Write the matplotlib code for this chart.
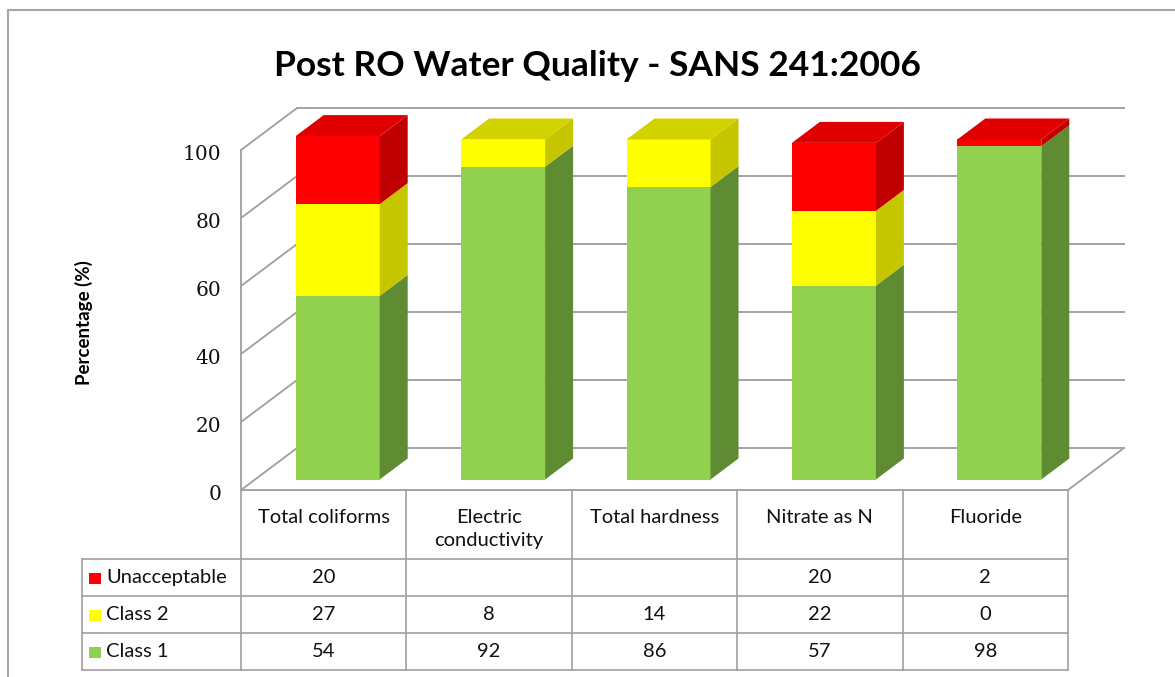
import numpy as np
import matplotlib
matplotlib.use("Agg")
import matplotlib.pyplot as plt
from matplotlib.patches import Polygon, Rectangle

# ---- data ----
categories = ["Total coliforms", "Electric\nconductivity", "Total hardness", "Nitrate as N", "Fluoride"]
series_names = ["Class 1", "Class 2", "Unacceptable"]
class1 = [54, 92, 86, 57, 98]
class2 = [27, 8, 14, 22, 0]
unacceptable = [20, None, None, 20, 2]
yticks = [0, 20, 40, 60, 80, 100]
title = "Post RO Water Quality - SANS 241:2006"
ylabel = "Percentage (%)"

front_colors = ["#92D050", "#FFFF00", "#FF0000"]
side_colors = ["#5F8B32", "#C6C600", "#C00000"]
top_colors = ["#7DB83E", "#D2D200", "#E00000"]

# ---- layout (pixel geometry of the reference) ----
W, H = 1175, 677
X0, Y0 = 241, 490          # front-left-bottom corner of plot
CW = 165.4                 # category width (px)
UY = 3.4                   # px per percent
DX, DY = 56 / CW, 42 / UY  # full depth offset in data units

def px(x):
    return (x - X0) / CW

def py(y):
    return (Y0 - y) / UY

fig = plt.figure(figsize=(W / 100, H / 100), dpi=100)
ax = fig.add_axes([0, 0, 1, 1])
ax.set_xlim(px(0), px(W))
ax.set_ylim(py(H), py(0))
ax.axis("off")

# outer frame
fig.patches.append(Rectangle((8 / W, -0.05), 1.2, 1 - 10 / H + 0.05, transform=fig.transFigure,
                             fill=False, ec="#A6A6A6", lw=1.5, zorder=0))

grid_c = "#A3A3A3"
n = len(categories)
# walls / gridlines
for v in yticks:
    ax.plot([0, DX], [v, v + DY], color=grid_c, lw=1.4, zorder=1, solid_capstyle="butt")
    ax.plot([DX, n + DX], [v + DY, v + DY], color=grid_c, lw=1.4, zorder=1)
ax.plot([0, 0], [0, 100], color=grid_c, lw=1.4, zorder=1)
ax.plot([0, n], [0, 0], color=grid_c, lw=1.4, zorder=1)
ax.plot([n, n + DX], [0, DY], color=grid_c, lw=1.4, zorder=1)

# y tick labels
for v in yticks:
    ax.text(px(221), v - 1.2, str(v), ha="right", va="center", fontsize=14.5,
            family="DejaVu Serif", color="#111111")
ax.text(px(84), py(323), ylabel, rotation=90, ha="center", va="center",
        fontsize=13.5, family="Lato", fontweight="bold")

ax.text(px(597), py(76), title, ha="center", va="baseline", fontsize=25.5,
        family="Lato", fontweight="bold")

# bars (pseudo 3D)
bw = 84 / CW
f0, f1 = 0.25, 0.75
ox, oy = DX * f0, DY * f0
ddx, ddy = DX * (f1 - f0), DY * (f1 - f0)
series = [class1, class2, unacceptable]
x = np.arange(n)
for i in range(n):
    bottom = 0.0
    segs = []
    for s, vals in enumerate(series):
        v = vals[i]
        if v is None or v == 0:
            continue
        segs.append((s, bottom, v))
        bottom += v
    xl = x[i] + 0.5 - bw / 2 + ox
    xr = xl + bw
    for k, (s, b, v) in enumerate(segs):
        ax.bar(xl, v, width=bw, bottom=b + oy, align="edge", color=front_colors[s],
               lw=0, zorder=3)
        ax.add_patch(Polygon([(xr, b + oy), (xr + ddx, b + oy + ddy),
                              (xr + ddx, b + v + oy + ddy), (xr, b + v + oy)],
                             closed=True, fc=side_colors[s], lw=0, zorder=3))
        if k == len(segs) - 1:
            t = b + v + oy
            ax.add_patch(Polygon([(xl, t), (xl + ddx, t + ddy), (xr + ddx, t + ddy), (xr, t)],
                                 closed=True, fc=top_colors[s], lw=0, zorder=3))

# data table
tbl_c = "#A0A0A0"
row_y = [py(559), py(596), py(633), py(670)]
ybot = row_y[-1]
for k in range(n + 1):
    ax.plot([k, k], [0, ybot], color=tbl_c, lw=1.2, zorder=2)
lab_left = px(82)
for yy in row_y:
    ax.plot([lab_left, n], [yy, yy], color=tbl_c, lw=1.2, zorder=2)
ax.plot([lab_left, lab_left], [row_y[0], ybot], color=tbl_c, lw=1.2, zorder=2)

for k, c in enumerate(categories):
    ax.text(k + 0.5, py(509), c, ha="center", va="top", fontsize=14.5, family="Lato",
            linespacing=1.45, color="#111111")

rows = [(unacceptable, 2), (class2, 1), (class1, 0)]
for r, (vals, s) in enumerate(rows):
    yc = (row_y[r] + row_y[r + 1]) / 2
    ax.add_patch(Rectangle((px(89), yc - 1.9), 12 / CW, 11 / UY, fc=front_colors[s], lw=0))
    ax.text(px(106), yc, series_names[s], ha="left", va="center", fontsize=14.5,
            family="Lato", color="#111111")
    for k, v in enumerate(vals):
        if v is None:
            continue
        ax.text(k + 0.5, yc, str(v), ha="center", va="center", fontsize=14.5,
                family="Lato", color="#111111")

fig.savefig("out.png", dpi=100)
